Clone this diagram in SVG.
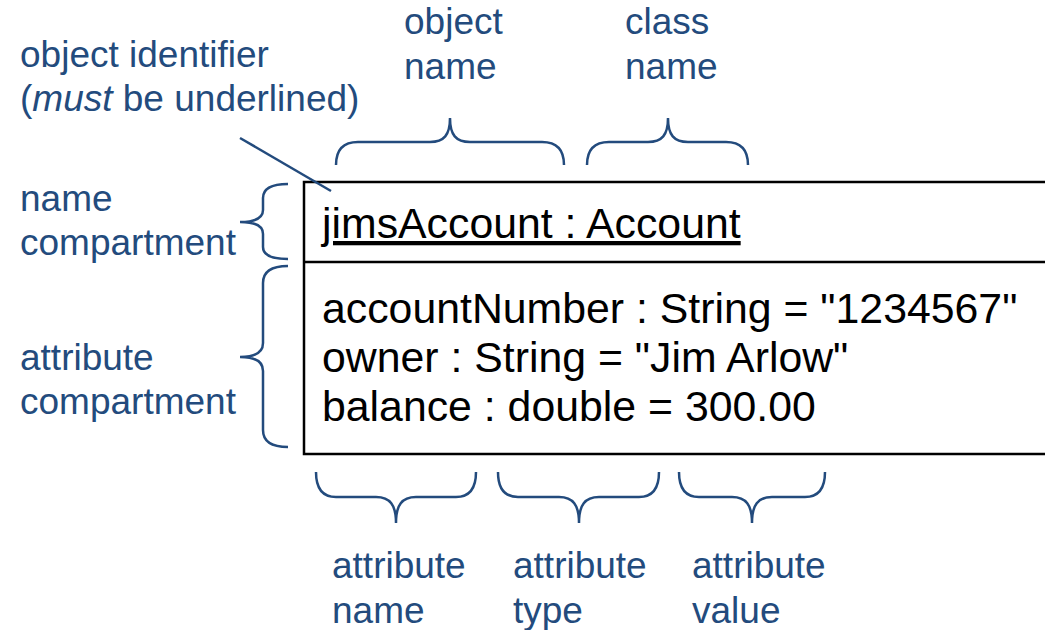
<svg xmlns="http://www.w3.org/2000/svg" width="1045" height="630" viewBox="0 0 1045 630">
<style>
.lbl{font-family:"Liberation Sans",Arial,sans-serif;font-size:37px;fill:#234b7d}
.box{font-family:"Liberation Sans",Arial,sans-serif;font-size:42.8px;fill:#000}
.br{fill:none;stroke:#234b7d;stroke-width:2.5}
.frame{fill:#fff;stroke:#000;stroke-width:2.5}
</style>
<rect width="1045" height="630" fill="#fff"/>
<g id="object">
<rect class="frame" x="304" y="182" width="745" height="272"/>
<line x1="304" y1="262" x2="1049" y2="262" stroke="#000" stroke-width="2.5"/>
<text class="box" x="322" y="238" text-decoration="underline">jimsAccount : Account</text>
<text class="box" x="322" y="323">accountNumber : String = "1234567"</text>
<text class="box" x="322" y="372">owner : String = "Jim Arlow"</text>
<text class="box" x="322" y="421">balance : double = 300.00</text>
</g>
<g id="labels">
<text class="lbl" x="20" y="67">object identifier</text>
<text class="lbl" x="20" y="111">(<tspan font-style="italic">must</tspan> be underlined)</text>
<text class="lbl" x="404" y="34">object</text>
<text class="lbl" x="404" y="79">name</text>
<text class="lbl" x="625" y="34">class</text>
<text class="lbl" x="625" y="79">name</text>
<text class="lbl" x="20" y="211">name</text>
<text class="lbl" x="20" y="255">compartment</text>
<text class="lbl" x="20" y="370">attribute</text>
<text class="lbl" x="20" y="414">compartment</text>
<text class="lbl" x="332" y="578">attribute</text>
<text class="lbl" x="332" y="623">name</text>
<text class="lbl" x="513" y="578">attribute</text>
<text class="lbl" x="513" y="623">type</text>
<text class="lbl" x="692" y="578">attribute</text>
<text class="lbl" x="692" y="623">value</text>
</g>
<g id="connectors">
<line class="br" x1="240" y1="138" x2="331" y2="191"/>
<path class="br" d="M336,165 C336,150 343,142 358,142 L430,142 C444,142 450,135 450,118 C450,135 456,142 470,142 L542,142 C557,142 564,150 564,165"/>
<path class="br" d="M587,165 C587,150 594,142 609,142 L648,142 C662,142 668,135 668,118 C668,135 674,142 688,142 L726,142 C741,142 748,150 748,165"/>
<path class="br" d="M288,184 C272,184 263,188 263,198 L263,210 C263,218 255,222 240,222 C255,222 263,226 263,234 L263,247 C263,255 272,259 288,259"/>
<path class="br" d="M288,266 C272,266 263,271 263,283 L263,343 C263,352 255,357 240,357 C255,357 263,362 263,371 L263,430 C263,442 272,447 288,447"/>
<path class="br" d="M316,472 C316,488 322,497 336,497 L376,497 C390,497 396,505 396,523 C396,505 402,497 416,497 L456,497 C470,497 476,488 476,472"/>
<path class="br" d="M498,472 C498,488 504,497 518,497 L559,497 C573,497 579,505 579,523 C579,505 585,497 599,497 L639,497 C653,497 659,488 659,472"/>
<path class="br" d="M679,472 C679,488 685,497 699,497 L732,497 C746,497 752,505 752,523 C752,505 758,497 772,497 L805,497 C819,497 825,488 825,472"/>
</g>
</svg>
